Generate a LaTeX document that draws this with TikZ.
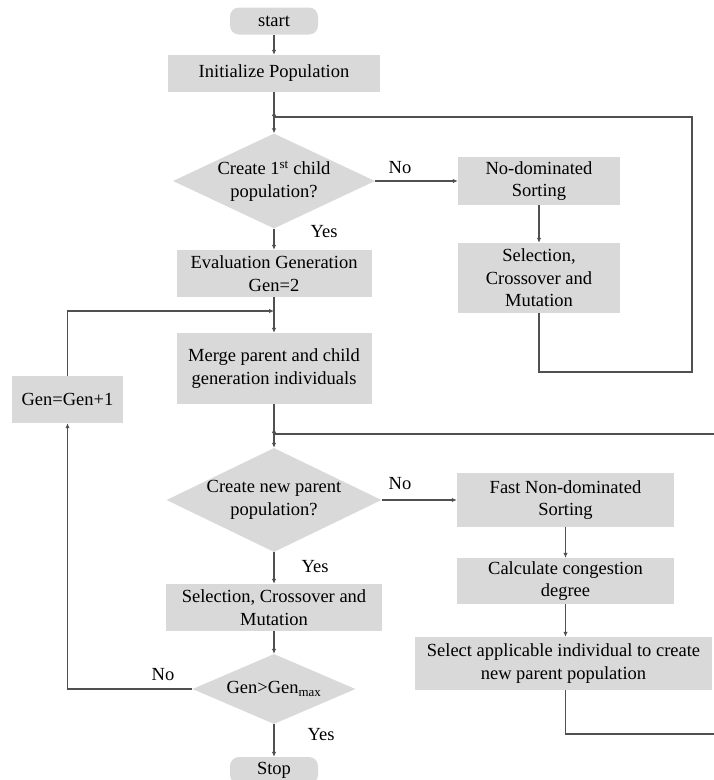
\documentclass[tikz,border=0pt]{standalone}
\usepackage{fontspec}
\setmainfont{Liberation Serif}
\newfontfamily\tnrfont{Liberation Serif}
\usetikzlibrary{shapes.geometric,arrows.meta}
\definecolor{boxgray}{RGB}{217,217,217}
\definecolor{linegray}{RGB}{80,80,80}
\newcommand\myfs{\tnrfont\fontsize{18.5}{22.5}\selectfont}
\begin{document}
\begin{tikzpicture}[x=1pt,y=-1pt,
  box/.style={rectangle, fill=boxgray, draw=none, inner sep=0pt, align=center, font=\myfs},
  term/.style={box, rounded corners=9pt},
  dia/.style={diamond, fill=boxgray, draw=none, inner sep=0pt},
  txt/.style={inner sep=0pt, align=center, font=\myfs},
  ln/.style={draw=linegray, line width=1.1pt},
  arr/.style={ln, -{Latex[length=5pt,width=4.5pt]}}]
\useasboundingbox (0,0) rectangle (713,780);
% nodes
\node[term, minimum width=88pt, minimum height=27pt] (start) at (274,21) {start};
\node[box, minimum width=212pt, minimum height=37pt] (init) at (274,73.5) {Initialize Population};
\coordinate (j1) at (274,117);
\node[dia, minimum width=202pt, minimum height=95pt] (d1) at (274,181) {};
\node[txt] (d1t) at (274,181) {Create 1\textsuperscript{st} child\\population?};
\node[box, minimum width=162pt, minimum height=48pt] (nds) at (539,181) {No-dominated\\Sorting};
\node[box, minimum width=162pt, minimum height=70pt] (sel1) at (539,278) {Selection,\\Crossover and\\Mutation};
\coordinate (c1) at (692,372);
\node[box, minimum width=195pt, minimum height=47pt] (eval) at (274,273.5) {Evaluation Generation\\Gen=2};
\coordinate (j2) at (274,311);
\node[box, minimum width=195pt, minimum height=71pt] (merge) at (274,368.5) {Merge parent and child\\generation individuals};
\node[box, minimum width=111pt, minimum height=47pt] (gen) at (67.5,399.5) {Gen=Gen+1};
\coordinate (j3) at (274,434);
\node[dia, minimum width=215pt, minimum height=104pt] (d2) at (274,500) {};
\node[txt] (d2t) at (274,500) {Create new parent\\population?};
\node[box, minimum width=217pt, minimum height=54pt] (fast) at (565.5,500) {Fast Non-dominated\\Sorting};
\node[box, minimum width=217pt, minimum height=46pt] (calc) at (565.5,581) {Calculate congestion\\degree};
\node[box, minimum width=297pt, minimum height=53pt] (selx) at (563.5,663.5) {Select applicable individual to create\\new parent population};
\coordinate (c2) at (725,734);
\node[box, minimum width=216pt, minimum height=47pt] (sel2) at (274,607.5) {Selection, Crossover and\\Mutation};
\node[dia, minimum width=163pt, minimum height=70pt] (d3) at (274,689) {};
\node[txt] (d3t) at (274,689) {Gen>Gen\textsubscript{max}};
\node[term, minimum width=88pt, minimum height=27pt] (stop) at (274,770.5) {Stop};
% labels
\node[txt] (no1) at (400,168) {No};
\node[txt] (no2) at (400,484) {No};
\node[txt] (no3) at (163,675) {No};
\node[txt] (yes1) at (324,232) {Yes};
\node[txt] (yes2) at (315,567) {Yes};
\node[txt] (yes3) at (321,735) {Yes};
% connectors
\draw[arr] (start) -- (init);
\draw[ln] (init) -- (j1);
\draw[arr] (j1) -- (d1.north);
\draw[arr] (sel1.south) |- (c1) |- (j1) -- ++(0,-6);
\draw[arr] (d1.east) -- (nds.west);
\draw[arr] (nds) -- (sel1);
\draw[arr] (d1.south) -- (eval.north);
\draw[arr] (eval.south) -- (merge.north);
\draw[arr] (gen.north) |- (j2);
\draw[ln] (merge) -- (j3);
\draw[arr] (j3) -- (d2.north);
\draw[arr] (selx.south -| calc.south) |- (c2) |- (j3) -- ++(0,-6);
\draw[arr] (d2.east) -- (fast.west);
\draw[arr] (fast) -- (calc);
\draw[arr] (calc.south) -- (calc.south |- selx.north);
\draw[arr] (d2.south) -- (sel2.north);
\draw[arr] (sel2) -- (d3);
\draw[arr] (d3.west) -| (gen.south);
\draw[arr] (d3.south) -- (stop.north);
\end{tikzpicture}
\end{document}
